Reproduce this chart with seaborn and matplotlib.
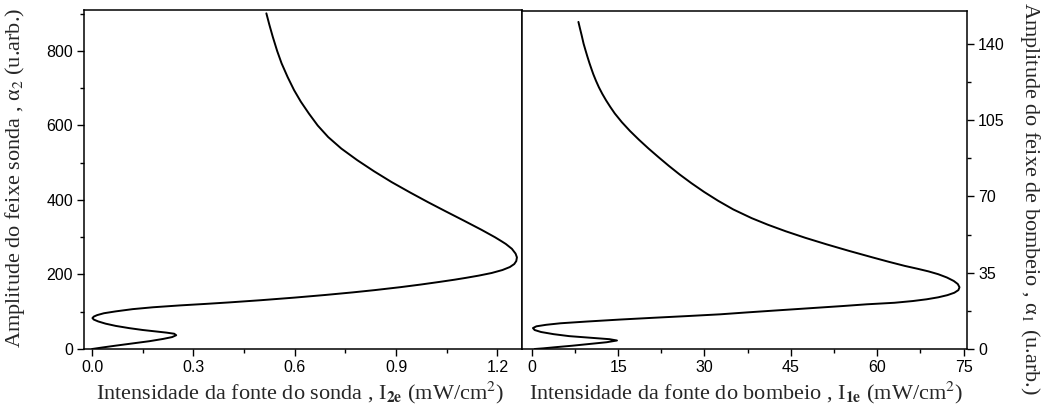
import numpy as np
import pandas as pd
import matplotlib
matplotlib.use("Agg")
import matplotlib.pyplot as plt
import seaborn as sns
from matplotlib.ticker import MultipleLocator

# ---- data (curve traced in path order) ----
probe_I = [0.0, 0.03, 0.07, 0.12, 0.17, 0.21, 0.237, 0.249, 0.243, 0.22, 0.19,
           0.15, 0.11, 0.07, 0.04, 0.018, 0.005, 0.001, 0.005, 0.015, 0.035,
           0.07, 0.12, 0.18, 0.26, 0.335, 0.405, 0.50, 0.60, 0.69, 0.772, 0.836,
           0.913, 0.973, 1.028, 1.073, 1.107, 1.145, 1.183, 1.215, 1.237, 1.25,
           1.256, 1.258, 1.254, 1.243, 1.225, 1.211, 1.193, 1.153, 1.100, 1.046,
           0.995, 0.942, 0.887, 0.835, 0.785, 0.738, 0.699, 0.668, 0.642,
           0.618, 0.598, 0.579, 0.561, 0.548, 0.535, 0.525, 0.516]
probe_alpha = [0, 4, 9, 15, 21, 27, 32, 37, 41, 44, 47,
               51, 56, 62, 68, 74, 79, 83, 87, 91, 96,
               101, 107, 112, 117, 121, 125, 131, 138, 145, 152, 158,
               166, 173, 180, 186, 191, 197, 204, 212, 220, 228,
               236, 246, 256, 269, 282, 290, 300, 320, 345, 370,
               394, 420, 448, 477, 507, 538, 569, 600, 632,
               664, 695, 730, 767, 800, 838, 870, 901]

pump_I = [0.5, 2.0, 4.0, 7.0, 10.0, 13.0, 14.8, 13.5, 10.0, 6.5, 3.8, 1.6, 0.5,
          0.2, 0.8, 2.5, 5.0, 9.6, 15.3, 21.0, 27.0, 32.7, 37.5, 42.0, 46.0,
          50.0, 54.0, 58.2, 63.0, 66.2, 68.6, 70.6, 72.2, 73.4, 74.1, 74.3,
          74.0, 73.3, 72.1, 70.6, 68.9, 67.0, 64.8, 62.0, 59.2, 55.1, 51.2,
          47.5, 44.1, 41.0, 38.2, 35.0, 32.35, 29.95, 27.75, 25.7, 23.8,
          22.0, 20.25, 18.6, 17.05, 15.65, 14.42, 13.64, 12.91, 12.25, 11.66,
          11.15, 10.69, 10.42, 10.03, 9.67, 9.33, 9.0, 8.65, 8.37, 8.1]
pump_alpha = [0.0, 0.3, 0.8, 1.5, 2.3, 3.1, 3.9, 4.5, 5.2, 5.9, 6.8, 7.8, 8.7,
              9.6, 10.4, 11.1, 11.8, 12.6, 13.5, 14.3, 15.1, 15.9, 16.8, 17.6, 18.3,
              19.0, 19.7, 20.5, 21.2, 22.0, 22.8, 23.7, 24.7, 25.8, 27.0, 28.3,
              29.8, 31.2, 32.8, 34.3, 35.6, 36.8, 38.1, 40.0, 42.0, 45.0, 48.0,
              51.0, 54.0, 57.0, 60.0, 64.0, 68.0, 72.0, 76.0, 80.0, 84.0,
              88.0, 92.0, 96.0, 100.0, 104.0, 108.0, 111.0, 114.0, 117.0, 120.0,
              123.0, 126.0, 128.0, 131.0, 134.0, 137.0, 140.0, 144.0, 147.0, 150.0]

probe_xticks = [0.0, 0.3, 0.6, 0.9, 1.2]
probe_yticks = [0, 200, 400, 600, 800]
pump_xticks = [0, 15, 30, 45, 60, 75]
pump_yticks = [0, 35, 70, 105, 140]

# ---- style ----
sns.set_theme(style="ticks")
plt.rcParams["font.family"] = ["Liberation Sans", "DejaVu Sans"]
plt.rcParams["mathtext.fontset"] = "stix"

fig = plt.figure(figsize=(10.45, 4.17), dpi=100)
ax1 = fig.add_axes([84 / 1045, 1 - 349 / 417, 438 / 1045, 339 / 417])
ax2 = fig.add_axes([522 / 1045, 1 - 349 / 417, 445 / 1045, 338 / 417])

sns.lineplot(x=probe_I, y=probe_alpha, sort=False, estimator=None,
             color="black", lw=1.4, ax=ax1)
sns.lineplot(x=pump_I, y=pump_alpha, sort=False, estimator=None,
             color="black", lw=1.4, ax=ax2)

serif = {"family": ["Liberation Serif", "DejaVu Serif"], "size": 16}

# left panel
ax1.set_xlim(-0.024, 1.273)
ax1.set_ylim(0, 910)
ax1.set_xticks(probe_xticks)
ax1.set_xticklabels(["%.1f" % v for v in probe_xticks])
ax1.set_yticks(probe_yticks)
ax1.xaxis.set_minor_locator(MultipleLocator(0.15))
ax1.yaxis.set_minor_locator(MultipleLocator(100))
ax1.set_xlabel(r"Intensidade da fonte do sonda , I$_{\mathbf{2e}}$ (mW/cm$^{2}$)",
               fontdict=serif, va="top")
ax1.set_ylabel(r"Amplitude do feixe sonda , α$_{2}$ (u.arb.)", fontdict=serif)
ax1.xaxis.set_label_coords(0.494, -0.092)
ax1.yaxis.set_label_coords(-0.13, 0.505)

# right panel
ax2.set_xlim(-1.7, 75.6)
ax2.set_ylim(0, 155)
ax2.set_xticks(pump_xticks)
ax2.set_yticks(pump_yticks)
ax2.xaxis.set_minor_locator(MultipleLocator(7.5))
ax2.yaxis.set_minor_locator(MultipleLocator(17.5))
ax2.yaxis.tick_right()
ax2.yaxis.set_label_position("right")
ax2.set_xlabel(r"Intensidade da fonte do bombeio , I$_{\mathbf{1e}}$ (mW/cm$^{2}$)",
               fontdict=serif, va="top")
ax2.set_ylabel(r"Amplitude do feixe de bombeio , α$_{1}$ (u.arb.)",
               fontdict=serif, rotation=-90, va="center")
ax2.xaxis.set_label_coords(0.503, -0.092)
ax2.yaxis.set_label_coords(1.142, 0.445)

for ax in (ax1, ax2):
    for s in ax.spines.values():
        s.set_visible(True)
        s.set_linewidth(1.1)
        s.set_color("black")
    ax.tick_params(which="major", direction="out", length=5, width=1,
                   color="black", labelsize=11.5, pad=3, labelcolor="black")
    ax.tick_params(which="minor", direction="out", length=3, width=1,
                   color="black")
    ax.set_facecolor("white")

ax1.tick_params(axis="y", which="both", left=True, right=False)
ax1.tick_params(axis="x", which="both", bottom=True, top=False)
ax2.tick_params(axis="y", which="both", left=False, right=True,
                labelleft=False, labelright=True)
ax2.tick_params(axis="x", which="both", bottom=True, top=False)

fig.savefig("out.png", dpi=100, facecolor="white")
